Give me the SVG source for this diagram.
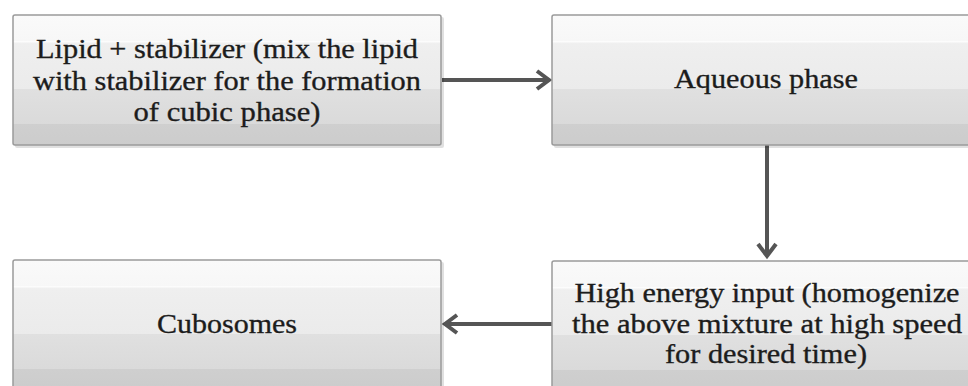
<svg xmlns="http://www.w3.org/2000/svg" width="968" height="386" viewBox="0 0 968 386">
<style>
.box{fill:url(#gloss);stroke:#9a9a9a;stroke-width:1.5}
.shadow{fill:#000;opacity:0.12}
.t{font-family:"Liberation Serif","Times New Roman",serif;font-size:28px;fill:#1c1c1c;stroke:#1c1c1c;stroke-width:0.35;text-anchor:middle}
.c{fill:none;stroke:#555;stroke-width:4}
</style>
<defs>
<linearGradient id="gloss" x1="0" y1="0" x2="0" y2="1">
<stop offset="0" stop-color="#fafafa"/>
<stop offset="0.2" stop-color="#f7f7f7"/>
<stop offset="0.2" stop-color="#ffffff"/>
<stop offset="0.22" stop-color="#efefef"/>
<stop offset="0.57" stop-color="#ebebeb"/>
<stop offset="0.57" stop-color="#e0e0e0"/>
<stop offset="0.84" stop-color="#dadada"/>
<stop offset="0.84" stop-color="#cfcfcf"/>
<stop offset="1" stop-color="#cccccc"/>
</linearGradient>
<marker id="arr" markerUnits="userSpaceOnUse" markerWidth="20" markerHeight="24" viewBox="-16 -12 20 24" refX="0" refY="0" orient="auto">
<polyline points="-12,-9 0,0 -12,9" fill="none" stroke="#555" stroke-width="4" stroke-linejoin="miter"/>
</marker>
</defs>
<g id="connectors">
<line class="c" x1="442" y1="80" x2="549" y2="80" marker-end="url(#arr)"/>
<line class="c" x1="767" y1="145" x2="767" y2="256" marker-end="url(#arr)"/>
<line class="c" x1="552" y1="324" x2="445" y2="324" marker-end="url(#arr)"/>
</g>
<g id="node-lipid">
<rect class="shadow" x="15" y="17" width="429" height="131" rx="2"/>
<rect class="box" x="13" y="15" width="428" height="130" rx="2"/>
<text class="t" x="227" y="58" textLength="382" lengthAdjust="spacingAndGlyphs">Lipid + stabilizer (mix the lipid</text>
<text class="t" x="227" y="90" textLength="388" lengthAdjust="spacingAndGlyphs">with stabilizer  for the formation</text>
<text class="t" x="227" y="121" textLength="187" lengthAdjust="spacingAndGlyphs">of cubic phase)</text>
</g>
<g id="node-aqueous">
<rect class="shadow" x="554" y="17" width="430" height="131" rx="2"/>
<rect class="box" x="552" y="15" width="430" height="130" rx="2"/>
<text class="t" x="766" y="88" textLength="184" lengthAdjust="spacingAndGlyphs">Aqueous phase</text>
</g>
<g id="node-highenergy">
<rect class="shadow" x="554" y="263" width="430" height="131" rx="2"/>
<rect class="box" x="552" y="261" width="430" height="130" rx="2"/>
<text class="t" x="767" y="302" textLength="385" lengthAdjust="spacingAndGlyphs">High energy input (homogenize</text>
<text class="t" x="767" y="333" textLength="390" lengthAdjust="spacingAndGlyphs">the above mixture at high speed</text>
<text class="t" x="766" y="363" textLength="202" lengthAdjust="spacingAndGlyphs">for desired time)</text>
</g>
<g id="node-cubosomes">
<rect class="shadow" x="15" y="262" width="429" height="131" rx="2"/>
<rect class="box" x="13" y="260" width="428" height="130" rx="2"/>
<text class="t" x="227" y="333" textLength="140" lengthAdjust="spacingAndGlyphs">Cubosomes</text>
</g>
</svg>
